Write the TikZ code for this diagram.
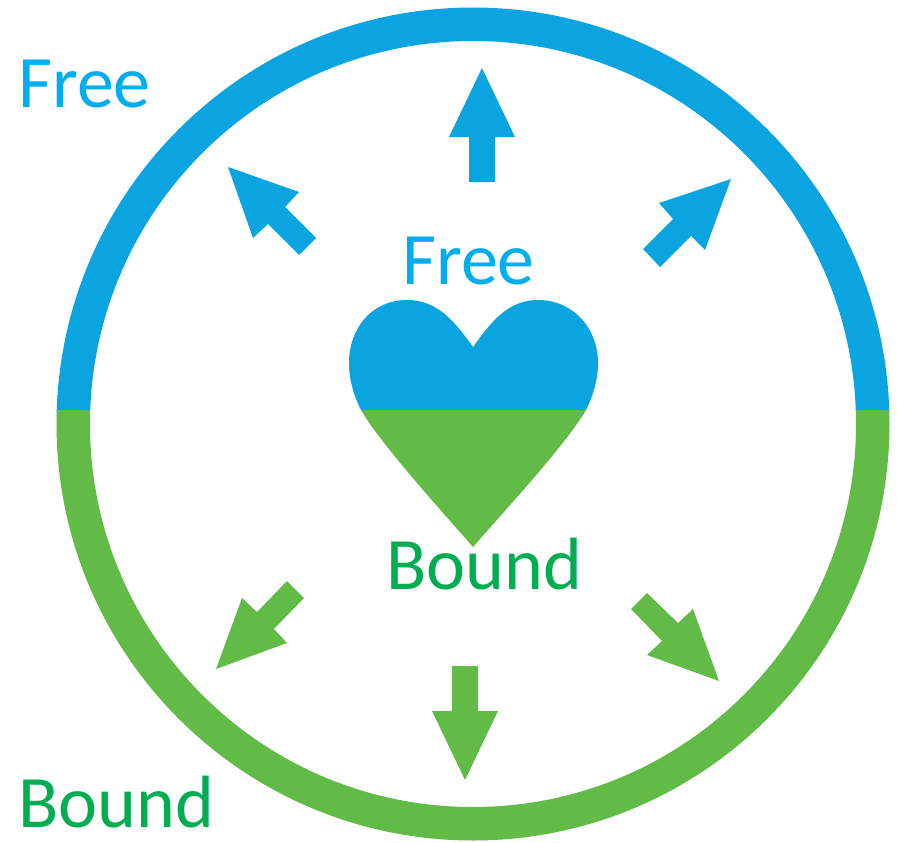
\documentclass[tikz,border=0pt]{standalone}
\usepackage{fontspec}
\setmainfont{Carlito}
\definecolor{fb}{HTML}{0AA5E0}
\definecolor{gb}{HTML}{62BB46}
\definecolor{tb}{HTML}{00AEEF}
\definecolor{tg}{HTML}{00AD50}
\tikzset{lab/.style={inner sep=0pt,font=\fontsize{74}{80}\selectfont},
 blueshape/.style={fill=fb,draw=none},greenshape/.style={fill=gb,draw=none}}
\begin{document}
\begin{tikzpicture}[x=1pt,y=1pt]
\useasboundingbox (0,0) rectangle (897,-843);
% ring
\begin{scope}
\clip (0,0) rectangle (897,-410);
\fill[fb,even odd rule] (473,-424) circle[radius=416.5] (473,-424) circle[radius=383];
\end{scope}
\begin{scope}
\clip (0,-410) rectangle (897,-843);
\fill[gb,even odd rule] (473,-424) circle[radius=416.5] (473,-424) circle[radius=383];
\end{scope}
% heart
\fill[fb] (473,-347) .. controls (455,-322) and (438,-300) .. (407,-300) .. controls (372,-300) and (349,-328) .. (349,-363) .. controls (349,-380) and (354,-396) .. (361,-410) -- (586,-410) .. controls (593,-396) and (598,-380) .. (598,-363) .. controls (598,-328) and (573,-300) .. (538,-300) .. controls (508,-300) and (491,-322) .. (473,-347) -- cycle;
\fill[gb] (361,-410) .. controls (380,-443) and (438,-507) .. (473,-547) .. controls (508,-507) and (567,-443) .. (586,-410) -- cycle;
% arrows
\fill[blueshape] (482,-68) -- (515,-137) -- (495,-137) -- (495,-182) -- (469,-182) -- (469,-137) -- (449,-137) -- cycle;
\fill[blueshape] (228,-167) -- (299,-192) -- (285,-207) -- (316,-238) -- (299,-255) -- (268,-224) -- (253,-238) -- cycle;
\fill[blueshape] (731,-179) -- (705,-250) -- (691,-236) -- (660,-267) -- (643,-249) -- (673,-219) -- (659,-203) -- cycle;
\fill[greenshape] (465,-780) -- (432,-711) -- (452,-711) -- (452,-666) -- (478,-666) -- (478,-711) -- (498,-711) -- cycle;
\fill[greenshape] (216,-669) -- (287,-643) -- (274,-629) -- (304,-598) -- (287,-581) -- (257,-612) -- (242,-598) -- cycle;
\fill[greenshape] (719,-681) -- (693,-609) -- (678,-623) -- (647,-593) -- (631,-609) -- (662,-641) -- (647,-655) -- cycle;
% labels
\node[lab,text=tb,anchor=base west] (free1) at (18,-107) {Free};
\node[lab,text=tb,anchor=base west] (free2) at (402,-284) {Free};
\node[lab,text=tg,anchor=base west] (bound1) at (386,-589) {Bound};
\node[lab,text=tg,anchor=base west] (bound2) at (18,-827) {Bound};
\end{tikzpicture}
\end{document}
